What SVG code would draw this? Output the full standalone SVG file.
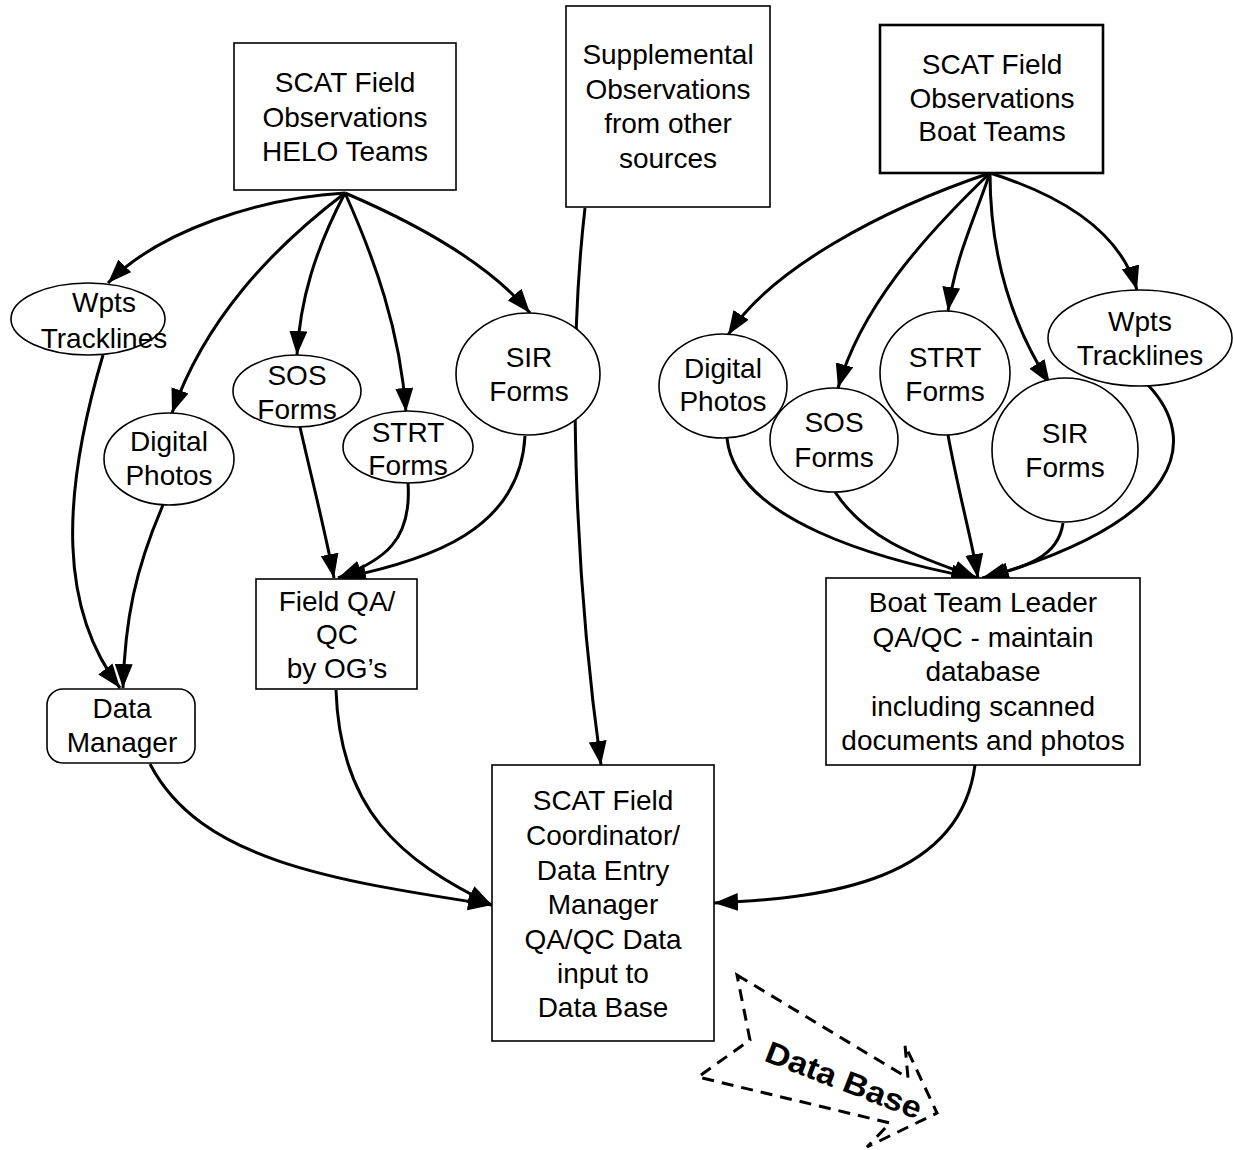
<svg xmlns="http://www.w3.org/2000/svg" width="1233" height="1150" viewBox="0 0 1233 1150">
<style>
text{font-family:"Liberation Sans",Arial,sans-serif;font-size:28px;fill:#000;text-anchor:middle}
.box{fill:#fff;stroke:#000;stroke-width:1.6}
.ell{fill:#fff;stroke:#000;stroke-width:1.6}
.edge{fill:none;stroke:#000;stroke-width:3;marker-end:url(#ah)}
.db{fill:none;stroke:#000;stroke-width:3;stroke-dasharray:12 8}
</style>
<defs>
<marker id="ah" markerUnits="userSpaceOnUse" markerWidth="26" markerHeight="20" refX="24" refY="9" orient="auto">
<path d="M0,0 L24,9 L0,18 z" fill="#000"/>
</marker>
</defs>
<rect width="1233" height="1150" fill="#fff"/>
<g id="connectors">
<path class="edge" d="M345,193 C260,198 160,230 108,283"/>
<path class="edge" d="M345,193 C270,250 205,320 172,413"/>
<path class="edge" d="M345,193 C315,250 300,300 297,355"/>
<path class="edge" d="M345,193 C375,260 400,330 406,412"/>
<path class="edge" d="M345,193 C420,225 490,265 530,313"/>
<path class="edge" d="M103,355 C60,500 60,610 120,688"/>
<path class="edge" d="M163,505 C135,570 125,620 123,688"/>
<path class="edge" d="M300,427 C312,480 325,530 334,578"/>
<path class="edge" d="M408,483 C412,540 385,560 338,578"/>
<path class="edge" d="M525,436 C520,530 430,560 342,578"/>
<path class="edge" d="M585,208 C565,380 578,600 601,765"/>
<path class="edge" d="M336,690 C340,810 400,860 492,905"/>
<path class="edge" d="M150,764 C200,860 330,880 492,905"/>
<path class="edge" d="M975,765 C960,880 830,898 714,903"/>
<path class="edge" d="M990,173 C880,210 770,270 728,335"/>
<path class="edge" d="M990,173 C920,240 860,310 838,388"/>
<path class="edge" d="M990,173 C970,230 955,260 948,311"/>
<path class="edge" d="M990,173 C990,260 1015,330 1050,384"/>
<path class="edge" d="M990,173 C1060,195 1120,230 1137,290"/>
<path class="edge" d="M727,438 C735,520 880,560 975,578"/>
<path class="edge" d="M835,492 C870,545 930,560 977,578"/>
<path class="edge" d="M948,435 C960,500 972,540 978,578"/>
<path class="edge" d="M1063,523 C1058,560 1020,568 982,578"/>
<path class="edge" d="M1148,385 C1200,440 1185,520 985,578"/>
</g>
<g id="helo"><rect class="box" x="234" y="43" width="222" height="147"/>
<text x="345" y="92">SCAT Field</text><text x="345" y="127">Observations</text><text x="345" y="161">HELO Teams</text></g>
<g id="supplemental"><rect class="box" x="566" y="6" width="204" height="201"/>
<text x="668" y="64">Supplemental</text><text x="668" y="99">Observations</text><text x="668" y="133">from other</text><text x="668" y="168">sources</text></g>
<g id="boat"><rect class="box" x="880" y="25" width="223" height="148" style="stroke-width:2.6"/>
<text x="992" y="74">SCAT Field</text><text x="992" y="108">Observations</text><text x="992" y="141">Boat Teams</text></g>
<g id="l-wpts"><ellipse class="ell" cx="88" cy="319" rx="77" ry="36"/>
<text x="104" y="312">Wpts</text><text x="104" y="348">Tracklines</text></g>
<g id="l-photos"><ellipse class="ell" cx="169" cy="459" rx="65" ry="46"/>
<text x="169" y="451">Digital</text><text x="169" y="485">Photos</text></g>
<g id="l-sos"><ellipse class="ell" cx="297" cy="391" rx="64" ry="36"/>
<text x="297" y="385">SOS</text><text x="297" y="419">Forms</text></g>
<g id="l-strt"><ellipse class="ell" cx="408" cy="447" rx="65" ry="36"/>
<text x="408" y="442">STRT</text><text x="408" y="475">Forms</text></g>
<g id="l-sir"><ellipse class="ell" cx="528" cy="374" rx="72" ry="61"/>
<text x="529" y="367">SIR</text><text x="529" y="401">Forms</text></g>
<g id="r-photos"><ellipse class="ell" cx="723" cy="386" rx="64" ry="52"/>
<text x="723" y="378">Digital</text><text x="723" y="411">Photos</text></g>
<g id="r-sos"><ellipse class="ell" cx="834" cy="440" rx="64" ry="52"/>
<text x="834" y="432">SOS</text><text x="834" y="467">Forms</text></g>
<g id="r-strt"><ellipse class="ell" cx="945" cy="373" rx="65" ry="62"/>
<text x="945" y="367">STRT</text><text x="945" y="401">Forms</text></g>
<g id="r-sir"><ellipse class="ell" cx="1065" cy="450" rx="73" ry="72"/>
<text x="1065" y="443">SIR</text><text x="1065" y="477">Forms</text></g>
<g id="r-wpts"><ellipse class="ell" cx="1140" cy="338" rx="92" ry="48"/>
<text x="1140" y="331">Wpts</text><text x="1140" y="365">Tracklines</text></g>
<g id="fieldqa"><rect class="box" x="256" y="579" width="161" height="110"/>
<text x="337" y="611">Field QA/</text><text x="337" y="644">QC</text><text x="337" y="678">by OG’s</text></g>
<g id="datamanager"><rect class="box" x="47" y="689" width="148" height="74" rx="16"/>
<text x="122" y="718">Data</text><text x="122" y="752">Manager</text></g>
<g id="coordinator"><rect class="box" x="492" y="765" width="222" height="276"/>
<text x="603" y="810">SCAT Field</text><text x="603" y="845">Coordinator/</text><text x="603" y="880">Data Entry</text><text x="603" y="914">Manager</text><text x="603" y="949">QA/QC Data</text><text x="603" y="983">input to</text><text x="603" y="1017">Data Base</text></g>
<g id="boatleader"><rect class="box" x="826" y="578" width="314" height="187"/>
<text x="983" y="612">Boat Team Leader</text><text x="983" y="647">QA/QC - maintain</text><text x="983" y="681">database</text><text x="983" y="716">including scanned</text><text x="983" y="750">documents and photos</text></g>
<g id="database">
<path class="db" d="M737,975 L908,1078 L905,1045 L937,1113 L867,1147 L890,1123 L698,1077 L750,1040 Z"/>
<text transform="translate(840,1090) rotate(21)" style="font-weight:bold;font-size:31px" textLength="165" lengthAdjust="spacingAndGlyphs">Data Base</text>
</g>
</svg>
